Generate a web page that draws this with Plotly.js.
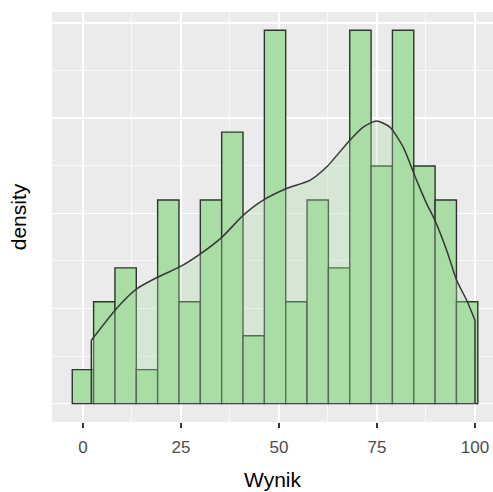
<!DOCTYPE html>
<html>
<head>
<meta charset="utf-8">
<script src="https://cdn.plot.ly/plotly-3.0.1.min.js"></script>
<style>html,body{margin:0;padding:0;background:#fff;}#chart{width:493px;height:492px;}</style>
</head>
<body>
<div id="chart"></div>
<script>
// Histogram bins (centers) and counts
const binCenters = [0, 5.444, 10.889, 16.333, 21.778, 27.222, 32.667, 38.111, 43.556, 49.0, 54.444, 59.889, 65.333, 70.778, 76.222, 81.667, 87.111, 92.556, 98.0];
const binCounts  = [1, 3, 4, 1, 6, 3, 6, 8, 2, 11, 3, 6, 4, 11, 7, 11, 7, 6, 3];
const binWidth = 5.444;
const nObs = 103;

// Kernel density estimate
const densX = [2.14, 8.53, 13.79, 19.15, 24.69, 30.05, 35.49, 40.85, 45.5, 51.93, 57.88, 62.14, 68.09, 71.48, 74.9, 78.3, 81.7, 85.12, 87.67, 89.79, 92.78, 95.33, 97.88, 100];
const densY = [0.00333, 0.00499, 0.00604, 0.00665, 0.00718, 0.00788, 0.00875, 0.00989, 0.01063, 0.0113, 0.01173, 0.01243, 0.01384, 0.01453, 0.01485, 0.01453, 0.01348, 0.01173, 0.01051, 0.00963, 0.00806, 0.00648, 0.00543, 0.00438];

const xTicks = [0, 25, 50, 75, 100];

const barDensity = binCounts.map(c => c / (nObs * binWidth));
const widths = binCenters.map(() => binWidth);

const first = 0, last = densX.length - 1;
const edgeX = [densX[first], densX[first], null, densX[last], densX[last]];
const edgeY = [0, densY[first], null, 0, densY[last]];

const green = 'rgb(170,221,166)';
const lineCol = 'rgb(55,55,55)';

const traces = [
  {
    type: 'bar', x: binCenters, y: barDensity, width: widths,
    marker: {color: green, line: {color: 'rgb(50,50,50)', width: 1.4}},
    hoverinfo: 'skip'
  },
  {
    type: 'scatter', mode: 'lines', x: densX, y: densY,
    fill: 'tozeroy', fillcolor: 'rgba(170,221,166,0.33)',
    line: {color: lineCol, width: 1.5, shape: 'spline', smoothing: 0.6},
    hoverinfo: 'skip'
  },
  {
    type: 'scatter', mode: 'lines', x: edgeX, y: edgeY,
    line: {color: lineCol, width: 1.5},
    hoverinfo: 'skip'
  }
];

const layout = {
  width: 493, height: 492,
  margin: {l: 52, r: 0, t: 12, b: 70},
  paper_bgcolor: '#ffffff',
  plot_bgcolor: '#EBEBEB',
  showlegend: false,
  bargap: 0,
  font: {family: 'Liberation Sans, Arial, sans-serif'},
  xaxis: {
    range: [-7.89, 104.6],
    tickmode: 'array', tickvals: xTicks, ticktext: xTicks.map(String),
    ticks: 'outside', ticklen: 5, tickwidth: 1.2, tickcolor: '#333333',
    ticklabelstandoff: 5,
    tickfont: {size: 17, color: '#4d4d4d'},
    showgrid: true, gridcolor: '#ffffff', gridwidth: 1.5,
    minor: {tickmode: 'array', tickvals: [12.5, 37.5, 62.5, 87.5], showgrid: true, gridcolor: '#ffffff', gridwidth: 0.7, ticks: ''},
    zeroline: false, showline: false,
    title: {text: 'Wynik', font: {size: 21, color: '#000000'}, standoff: 15}
  },
  yaxis: {
    range: [-0.000967, 0.020577],
    tickmode: 'array', tickvals: [0, 0.005, 0.01, 0.015, 0.02],
    showticklabels: false, ticks: '',
    showgrid: true, gridcolor: '#ffffff', gridwidth: 1.5,
    minor: {tickmode: 'array', tickvals: [0.0025, 0.0075, 0.0125, 0.0175], showgrid: true, gridcolor: '#ffffff', gridwidth: 0.7, ticks: ''},
    zeroline: false, showline: false,
    title: {text: 'density', font: {size: 21, color: '#000000'}, standoff: 18}
  }
};

Plotly.newPlot('chart', traces, layout, {displayModeBar: false, staticPlot: true});
</script>
</body>
</html>
